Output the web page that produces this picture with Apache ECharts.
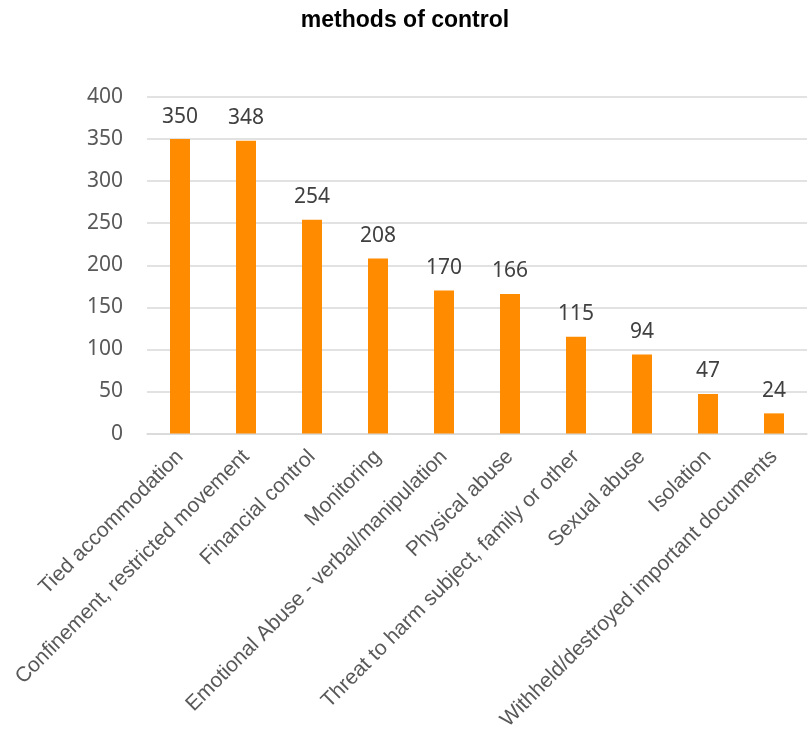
<!DOCTYPE html>
<html>
<head>
<meta charset="utf-8">
<script src="https://cdn.jsdelivr.net/npm/echarts@6/dist/echarts.min.js"></script>
<style>
  html, body { margin: 0; padding: 0; background: #fff; }
  #main { width: 810px; height: 733px; }
</style>
</head>
<body>
<div id="main"></div>
<script>
// data
var categories = [
    'Tied accommodation',
    'Confinement, restricted movement',
    'Financial control',
    'Monitoring',
    'Emotional Abuse - verbal/manipulation',
    'Physical abuse',
    'Threat to harm subject, family or other',
    'Sexual abuse',
    'Isolation',
    'Withheld/destroyed important documents'
]
var counts = [350, 348, 254, 208, 170, 166, 115, 94, 47, 24]

var chart = echarts.init(document.getElementById('main'))
chart.setOption({
    animation: false,
    title: {
        text: 'methods of control',
        left: 'center',
        top: 4,
        textStyle: {
            fontFamily: 'Liberation Sans',
            fontWeight: 'bold',
            fontSize: 23,
            color: '#000'
        }
    },
    grid: {
        left: 147,
        right: 3,
        top: 97,
        bottom: 299,
        containLabel: false
    },
    xAxis: {
        type: 'category',
        data: categories,
        axisLine: { show: true, lineStyle: { color: '#D9D9D9', width: 1.5 } },
        axisTick: { show: false },
        axisLabel: {
            rotate: 45,
            interval: 0,
            margin: 20,
            fontFamily: 'Liberation Sans',
            fontSize: 21,
            color: '#595959'
        }
    },
    yAxis: {
        type: 'value',
        min: 0,
        max: 400,
        interval: 50,
        axisLine: { show: false },
        axisTick: { show: false },
        splitLine: { lineStyle: { color: '#D9D9D9', width: 1.5 } },
        axisLabel: {
            margin: 24,
            fontFamily: 'Noto Sans',
            fontSize: 21,
            color: '#595959'
        }
    },
    series: [{
        type: 'bar',
        data: counts,
        barWidth: 20,
        itemStyle: { color: '#FF8C00' },
        label: {
            show: true,
            position: 'top',
            distance: 12,
            fontFamily: 'Noto Sans',
            fontSize: 21,
            color: '#404040'
        }
    }]
})
</script>
</body>
</html>
